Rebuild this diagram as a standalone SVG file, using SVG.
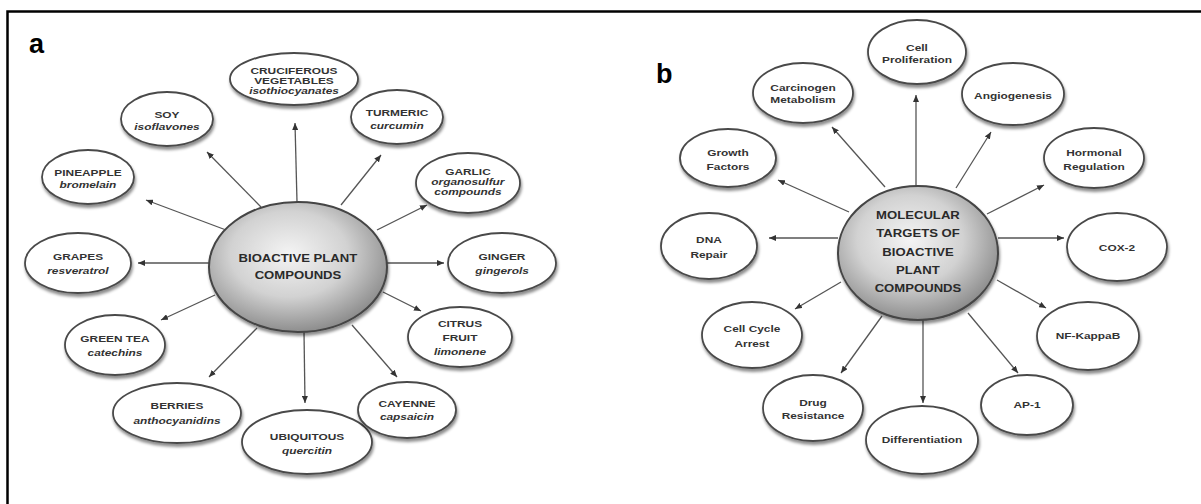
<svg xmlns="http://www.w3.org/2000/svg" width="1201" height="504" viewBox="0 0 1201 504">
<defs>
<style>
.nd ellipse{fill:#fff;stroke:#4a4a4a;stroke-width:1.8;filter:url(#sh)}
.hub ellipse{fill:url(#rg);stroke:#444;stroke-width:2;filter:url(#sh)}
.t{font-family:"Liberation Sans",Arial,sans-serif;font-weight:bold;font-size:9.5px;fill:#333;text-anchor:middle;dominant-baseline:central;transform-box:fill-box;transform-origin:center;transform:scaleX(1.25)}
.hub .t{font-size:10.5px;fill:#2a2a2a}
.i{font-style:italic}
.lbl{font-family:"Liberation Sans",Arial,sans-serif;font-weight:bold;font-size:27px;fill:#000}
#edges line{stroke:#555;stroke-width:1.3;marker-end:url(#ah)}
</style>
<filter id="sh" x="-20%" y="-20%" width="140%" height="160%">
<feDropShadow dx="1" dy="3" stdDeviation="1.6" flood-color="#000" flood-opacity="0.45"/>
</filter>
<radialGradient id="rg" cx="45%" cy="40%" r="60%">
<stop offset="0" stop-color="#f4f4f4"/>
<stop offset="0.55" stop-color="#d2d2d2"/>
<stop offset="1" stop-color="#8e8e8e"/>
</radialGradient>
<marker id="ah" markerUnits="userSpaceOnUse" markerWidth="7" markerHeight="6" refX="7" refY="3" orient="auto">
<path d="M0,0 L7,3 L0,6 z" fill="#333"/>
</marker>
</defs>
<rect width="1201" height="504" fill="#fff"/>
<path d="M7.5,504 V11.5 H1201" fill="none" stroke="#000" stroke-width="2.5"/>
<text class="lbl" x="29" y="53">a</text>
<text class="lbl" x="656" y="83">b</text>

<g id="edges">
<line x1="297" y1="202" x2="295" y2="123"/>
<line x1="261" y1="207" x2="207" y2="152"/>
<line x1="341" y1="205" x2="381" y2="155"/>
<line x1="226" y1="230" x2="146" y2="200"/>
<line x1="377" y1="230" x2="427" y2="205"/>
<line x1="209" y1="263" x2="138" y2="263"/>
<line x1="387" y1="263" x2="444" y2="263"/>
<line x1="215" y1="295" x2="161" y2="320"/>
<line x1="383" y1="292" x2="421" y2="311"/>
<line x1="257" y1="328" x2="209" y2="377"/>
<line x1="304" y1="332" x2="305" y2="403"/>
<line x1="352" y1="325" x2="397" y2="377"/>

<line x1="885" y1="187" x2="832" y2="127"/>
<line x1="916" y1="186" x2="916" y2="95"/>
<line x1="956" y1="188" x2="991" y2="132"/>
<line x1="849" y1="212" x2="778" y2="180"/>
<line x1="987" y1="214" x2="1044" y2="185"/>
<line x1="838" y1="238" x2="769" y2="238"/>
<line x1="998" y1="238" x2="1064" y2="238"/>
<line x1="841" y1="282" x2="795" y2="309"/>
<line x1="997" y1="280" x2="1046" y2="308"/>
<line x1="882" y1="316" x2="841" y2="373"/>
<line x1="923" y1="320" x2="923" y2="403"/>
<line x1="968" y1="313" x2="1018" y2="373"/>
</g>

<g id="hub-a" class="hub">
<ellipse cx="298" cy="267" rx="89" ry="65"/>
<text class="t" x="298" y="258">BIOACTIVE PLANT</text>
<text class="t" x="298" y="275">COMPOUNDS</text>
</g>
<g id="cruciferous" class="nd">
<ellipse cx="294" cy="79" rx="64" ry="26"/>
<text class="t" x="294" y="70">CRUCIFEROUS</text>
<text class="t" x="294" y="80">VEGETABLES</text>
<text class="t i" x="294" y="90">isothiocyanates</text>
</g>
<g id="soy" class="nd">
<ellipse cx="167" cy="119" rx="46" ry="27"/>
<text class="t" x="167" y="114">SOY</text>
<text class="t i" x="167" y="126">isoflavones</text>
</g>
<g id="turmeric" class="nd">
<ellipse cx="397" cy="117" rx="46" ry="27"/>
<text class="t" x="397" y="112">TURMERIC</text>
<text class="t i" x="397" y="125">curcumin</text>
</g>
<g id="pineapple" class="nd">
<ellipse cx="88" cy="177" rx="46" ry="27"/>
<text class="t" x="88" y="172">PINEAPPLE</text>
<text class="t i" x="88" y="184">bromelain</text>
</g>
<g id="garlic" class="nd">
<ellipse cx="468" cy="183" rx="52" ry="30"/>
<text class="t" x="468" y="171">GARLIC</text>
<text class="t i" x="468" y="181">organosulfur</text>
<text class="t i" x="468" y="191">compounds</text>
</g>
<g id="grapes" class="nd">
<ellipse cx="78" cy="263" rx="53" ry="30"/>
<text class="t" x="78" y="256">GRAPES</text>
<text class="t i" x="78" y="270">resveratrol</text>
</g>
<g id="ginger" class="nd">
<ellipse cx="502" cy="263" rx="54" ry="30"/>
<text class="t" x="502" y="256">GINGER</text>
<text class="t i" x="502" y="270">gingerols</text>
</g>
<g id="greentea" class="nd">
<ellipse cx="115" cy="345" rx="50" ry="30"/>
<text class="t" x="115" y="338">GREEN TEA</text>
<text class="t i" x="115" y="352">catechins</text>
</g>
<g id="citrus" class="nd">
<ellipse cx="460" cy="337" rx="52" ry="30"/>
<text class="t" x="460" y="323">CITRUS</text>
<text class="t" x="460" y="337">FRUIT</text>
<text class="t i" x="460" y="351">limonene</text>
</g>
<g id="berries" class="nd">
<ellipse cx="177" cy="413" rx="64" ry="30"/>
<text class="t" x="177" y="405">BERRIES</text>
<text class="t i" x="177" y="420">anthocyanidins</text>
</g>
<g id="ubiquitous" class="nd">
<ellipse cx="307" cy="442" rx="65" ry="32"/>
<text class="t" x="307" y="436">UBIQUITOUS</text>
<text class="t i" x="307" y="450">quercitin</text>
</g>
<g id="cayenne" class="nd">
<ellipse cx="407" cy="410" rx="49" ry="28"/>
<text class="t" x="407" y="403">CAYENNE</text>
<text class="t i" x="407" y="416">capsaicin</text>
</g>

<g id="hub-b" class="hub">
<ellipse cx="918" cy="253" rx="80" ry="67"/>
<text class="t" x="918" y="215">MOLECULAR</text>
<text class="t" x="918" y="233">TARGETS OF</text>
<text class="t" x="918" y="252">BIOACTIVE</text>
<text class="t" x="918" y="270">PLANT</text>
<text class="t" x="918" y="288">COMPOUNDS</text>
</g>
<g id="cellprolif" class="nd">
<ellipse cx="917" cy="52" rx="49" ry="32"/>
<text class="t" x="917" y="47">Cell</text>
<text class="t" x="917" y="59">Proliferation</text>
</g>
<g id="carcinogen" class="nd">
<ellipse cx="803" cy="93" rx="50" ry="30"/>
<text class="t" x="803" y="87">Carcinogen</text>
<text class="t" x="803" y="99">Metabolism</text>
</g>
<g id="angiogenesis" class="nd">
<ellipse cx="1013" cy="94" rx="51" ry="31"/>
<text class="t" x="1013" y="95">Angiogenesis</text>
</g>
<g id="growth" class="nd">
<ellipse cx="728" cy="158" rx="48" ry="29"/>
<text class="t" x="728" y="152">Growth</text>
<text class="t" x="728" y="166">Factors</text>
</g>
<g id="hormonal" class="nd">
<ellipse cx="1094" cy="158" rx="50" ry="30"/>
<text class="t" x="1094" y="152">Hormonal</text>
<text class="t" x="1094" y="166">Regulation</text>
</g>
<g id="dna" class="nd">
<ellipse cx="709" cy="246" rx="48" ry="33"/>
<text class="t" x="709" y="239">DNA</text>
<text class="t" x="709" y="254">Repair</text>
</g>
<g id="cox2" class="nd">
<ellipse cx="1117" cy="247" rx="50" ry="34"/>
<text class="t" x="1117" y="247">COX-2</text>
</g>
<g id="cellcycle" class="nd">
<ellipse cx="752" cy="335" rx="50" ry="33"/>
<text class="t" x="752" y="328">Cell Cycle</text>
<text class="t" x="752" y="343">Arrest</text>
</g>
<g id="nfkappab" class="nd">
<ellipse cx="1088" cy="336" rx="51" ry="34"/>
<text class="t" x="1088" y="335">NF-KappaB</text>
</g>
<g id="drug" class="nd">
<ellipse cx="813" cy="408" rx="50" ry="33"/>
<text class="t" x="813" y="402">Drug</text>
<text class="t" x="813" y="415">Resistance</text>
</g>
<g id="differentiation" class="nd">
<ellipse cx="922" cy="440" rx="56" ry="34"/>
<text class="t" x="922" y="439">Differentiation</text>
</g>
<g id="ap1" class="nd">
<ellipse cx="1027" cy="405" rx="46" ry="30"/>
<text class="t" x="1027" y="404">AP-1</text>
</g>
</svg>
